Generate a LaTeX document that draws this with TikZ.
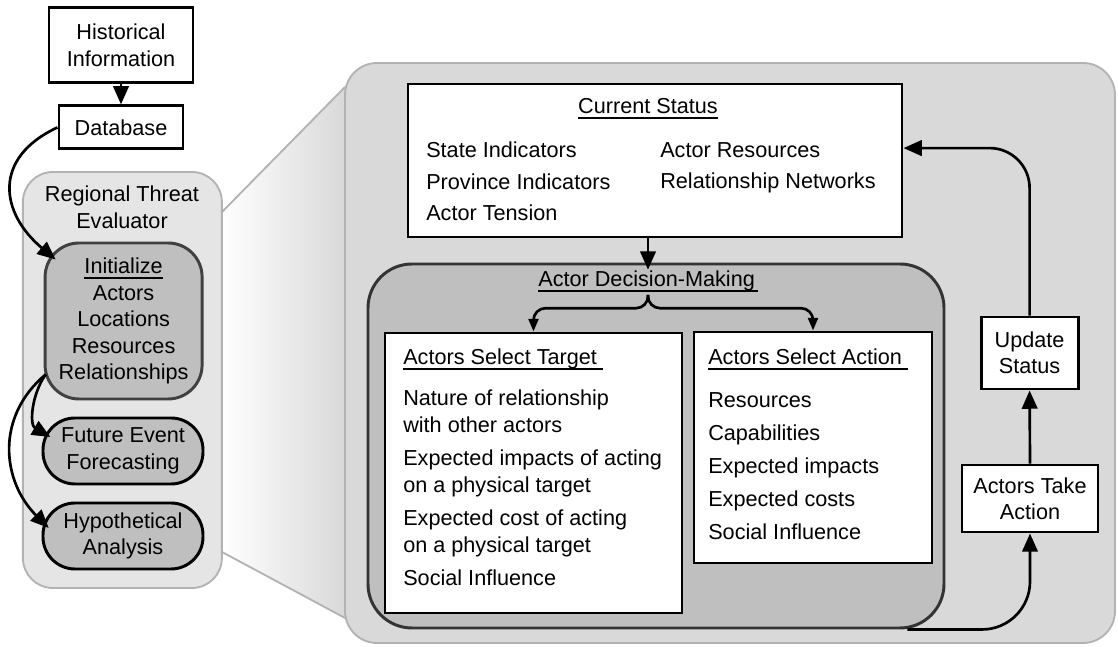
\documentclass[tikz,border=0pt]{standalone}
\usepackage{fontspec}
\setmainfont{Liberation Sans}
\usepackage{xcolor}
\usetikzlibrary{arrows.meta,shapes,calc,positioning}
\definecolor{panelgray}{gray}{0.85}
\definecolor{evalgray}{gray}{0.9}
\definecolor{midgray}{gray}{0.75}
\definecolor{edgegray}{gray}{0.7}
\newsavebox\headbox
\newcommand{\headline}[1]{\sbox\headbox{#1}\rlap{\rule[-3.5pt]{\wd\headbox}{1.5pt}}\usebox\headbox}

\begin{document}
\begin{tikzpicture}
	\tikzstyle{every node}=[font=\fontsize{15.4}{18.8}\selectfont]
	\tikzstyle{plainbox}=[draw, line width=2.1pt, fill=white, align=center, inner sep=0pt]
	\tikzstyle{greybox}=[draw, line width=2.1pt, fill=midgray, rounded corners=0.8cm, align=center, inner sep=0pt]
	\tikzstyle{flow}=[line width=1.9pt, -{Triangle[length=13pt,width=11pt]}]
	\tikzstyle{splitflow}=[line width=1.9pt, rounded corners=0.3cm, -{Triangle[length=9pt,width=7pt]}]
	\useasboundingbox (0,0) rectangle (27.95,16.175);
	% zoom wedge
	\shade [left color=white, right color=panelgray] (5.55,10.875) -- (8.625,14.0) -- (8.625,0.725) -- (5.55,2.375) -- cycle;
	\draw [edgegray, line width=1.3pt] (5.55,10.875) -- (8.625,14.0);
	\draw [edgegray, line width=1.3pt] (5.55,2.375) -- (8.625,0.725);
	% left column
	\node (evaluator) [draw=edgegray, line width=1.3pt, fill=evalgray, rounded corners=0.75cm, minimum width=4.975cm, minimum height=10.4cm] at (3.06,6.675) {};
	\node (evaltitle) [align=center] at (3.05,10.99) {Regional Threat\\Evaluator};
	\node (init) [greybox, draw=black!75, rounded corners=0.85cm, minimum width=3.925cm, minimum height=3.9cm] at (3.09,8.15) {\headline{Initialize}\\Actors\\Locations\\Resources\\Relationships};
	\node (forecast) [greybox, minimum width=4cm, minimum height=1.65cm] at (3.075,4.9) {Future Event\\Forecasting};
	\node (hypo) [greybox, minimum width=4cm, minimum height=1.65cm] at (3.075,2.775) {Hypothetical\\Analysis};
	\node (history) [plainbox, minimum width=3.6cm, minimum height=1.875cm] at (3.025,15.04) {Historical\\Information};
	\node (database) [plainbox, minimum width=3.1cm, minimum height=1.075cm] at (3.025,12.99) {Database};
	% right panel
	\node (panel) [draw=edgegray, line width=1.3pt, fill=panelgray, rounded corners=0.8cm, minimum width=19.25cm, minimum height=14.5cm] at (18.25,7.35) {};
	\node (status) [plainbox, minimum width=12.35cm, minimum height=3.825cm] at (16.375,12.1625) {};
	\node (statustitle) [anchor=base] at (16.2,13.325) {\headline{Current Status}};
	\node (statusleft) [anchor=west, align=left, inner sep=0pt] at (10.65,11.6375) {State Indicators\\[3.5pt]Province Indicators\\[3.5pt]Actor Tension};
	\node (statusright) [anchor=west, align=left, inner sep=0pt] at (16.5,11.98) {Actor Resources\\[3.5pt]Relationship Networks};
	\node (decision) [draw=black!80, line width=2.1pt, fill=midgray, rounded corners=1.1cm, minimum width=14.4cm, minimum height=9.1cm] at (16.4,5.025) {};
	\node (decisiontitle) [anchor=base, inner sep=1pt] at (16.2,9.0) {\headline{Actor Decision-Making\hspace{2pt}}};
	\coordinate (split) at (16.2,8.8);
	\node (target) [plainbox, minimum width=7.425cm, minimum height=7cm] at (13.3375,4.35) {};
	\node (targettitle) [anchor=base west, inner sep=0pt] at (10.075,7.05) {\headline{Actors Select Target\hspace{4pt}}};
	\node (targetitems) [anchor=west, align=left, inner sep=0pt] at (10.075,3.975) {Nature of relationship\\with other actors\\[5pt]Expected impacts of acting\\on a physical target\\[5pt]Expected cost of acting\\on a physical target\\[5pt]Social Influence};
	\node (action) [plainbox, minimum width=5.95cm, minimum height=5.775cm] at (20.325,4.9875) {};
	\node (actiontitle) [anchor=base west, inner sep=0pt] at (17.7,7.05) {\headline{Actors Select Action\hspace{4pt}}};
	\node (actionitems) [anchor=west, align=left, inner sep=0pt] at (17.7,4.525) {Resources\\[4.6pt]Capabilities\\[4.6pt]Expected impacts\\[4.6pt]Expected costs\\[4.6pt]Social Influence};
	\node (update) [plainbox, minimum width=2.425cm, minimum height=1.8cm] at (25.74,7.35) {Update\\Status};
	\node (takeaction) [plainbox, minimum width=3.4cm, minimum height=1.675cm] at (25.75,3.7125) {Actors Take\\Action};
	% connectors
	\draw [flow] (history) -- (database);
	\draw [flow] (database.west) to[out=205, in=140, looseness=1.4] ([shift={(0.3,-0.45)}]init.north west);
	\draw [flow] ([shift={(0.05,0.65)}]init.south west) to[out=235, in=150] ([shift={(0.22,0.35)}]forecast.west);
	\draw [flow] ([shift={(0.05,0.65)}]init.south west) to[out=220, in=135, looseness=1.1] ([shift={(0.18,0.2)}]hypo.west);
	\draw [flow] (status.south -| decisiontitle.north) -- (decisiontitle.north);
	\draw [splitflow] (split) -- ++(0,-0.33) -| (target.north);
	\draw [splitflow] (split) -- ++(0,-0.33) -| (action.north);
	\draw [flow, rounded corners=1.2cm] ([xshift=-0.95cm]decision.south east) -| (takeaction.south);
	\draw [flow] (takeaction.north) -- (update.south);
	\draw [flow, rounded corners=1cm] (update.north) |- ([yshift=0.31cm]status.east);
\end{tikzpicture}
\end{document}
